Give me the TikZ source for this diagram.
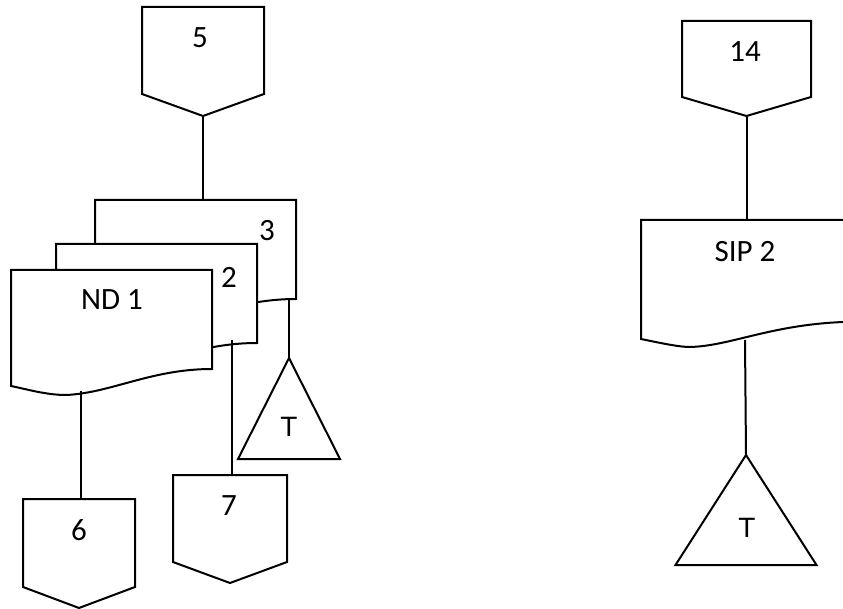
\documentclass[tikz,border=0pt]{standalone}
\usepackage{fontspec}
\setmainfont{Carlito}
\setsansfont{Liberation Sans}
\usetikzlibrary{positioning,calc}

\tikzset{
  flowline/.style={line width=2pt,line join=miter},
  lbl/.style={font=\fontsize{31}{36}\selectfont,inner sep=0pt},
  tlbl/.style={font=\sffamily\fontsize{28}{32}\selectfont,inner sep=0pt},
  pics/offpage/.style n args={3}{code={
    \draw[flowline,fill=white] (0,0) -- (#1,0) -- (#1,#2) -- (#1/2,#2+#3) -- (0,#2) -- cycle;
    \coordinate (-top) at (#1/2,0);
    \coordinate (-tip) at (#1/2,#2+#3);
  }},
  pics/docpage/.style={code={
    \draw[flowline,fill=white] (0,0) -- (201,0) -- (201,99)
      .. controls (140,99) and (100,123) .. (55,125)
      .. controls (35,125) and (15,119) .. (0,116) -- cycle;
    \coordinate (-nw) at (0,0);
  }},
  pics/endmark/.style n args={2}{code={
    \draw[flowline,fill=white] (0,0) -- (#1/2,#2) -- (-#1/2,#2) -- cycle;
    \coordinate (-apex) at (0,0);
  }}
}

\begin{document}
\begin{tikzpicture}[x=1pt,y=-1pt]
  \useasboundingbox (0,0) rectangle (843,609);
  \fill[white] (0,0) rectangle (843,609);
  \clip (0,0) rectangle (843,609);

  % left branch
  \pic (c5) at (142,7) {offpage={122}{87}{22}};
  \node[lbl] (n5) at (200,38) {5};

  \pic (d3) at (95,200) {docpage};
  \pic (d2) at (56,244) {docpage};
  \pic (d1) at (11,270) {docpage};
  \node[lbl] (n3) at (267,231) {3};
  \node[lbl] (n2) at (229,277) {2};
  \node[lbl] (nd1) at (112,300) {ND 1};

  \coordinate (d1out) at (81,391);
  \coordinate (d2out) at (232,340);
  \coordinate (d3out) at (289,300);

  \pic (c6) at (23,499) {offpage={112}{88}{21}};
  \node[lbl] (n6) at (79,530) {6};
  \pic (c7) at (173,475) {offpage={114}{87}{21}};
  \node[lbl] (n7) at (229,506) {7};
  \pic (t1) at (289,358) {endmark={102}{101}};
  \node[tlbl] (nt1) at (289,427) {T};

  \draw[flowline] (c5-tip) -- (c5-tip |- d3-nw);
  \draw[flowline] (d1out) -- (d1out |- c6-top);
  \draw[flowline] (d2out) -- (d2out |- c7-top);
  \draw[flowline] (d3out) -- (t1-apex);

  % right branch
  \pic (c14) at (682,21) {offpage={129}{76}{19}};
  \node[lbl] (n14) at (745,52) {14};
  \draw[flowline,fill=white] (641,220) coordinate (sip-nw) -- (870,220) -- (870,321)
    -- (843,322) .. controls (770,325) and (730,346) .. (690,347)
    .. controls (680,347) and (665,344) .. (641,339) -- cycle;
  \node[lbl] (nsip) at (745,252) {SIP 2};
  \coordinate (sipout) at (745,340);
  \pic (t2) at (746,455) {endmark={141}{110}};
  \node[tlbl] (nt2) at (747,528) {T};

  \draw[flowline] (c14-tip) -- (c14-tip |- sip-nw);
  \draw[flowline] (sipout) -- (t2-apex);
\end{tikzpicture}
\end{document}
